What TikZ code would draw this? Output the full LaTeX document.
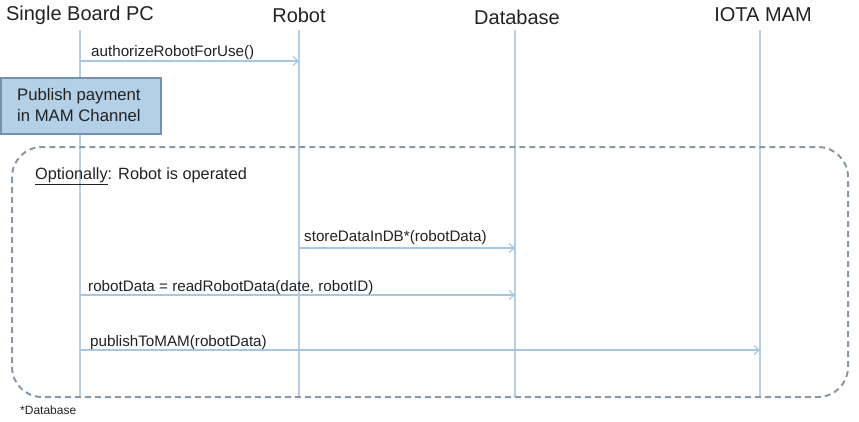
\documentclass[tikz,border=0pt]{standalone}
\usepackage{fontspec}
\setmainfont{Liberation Sans}
\usetikzlibrary{arrows.meta}
\definecolor{lifec}{HTML}{B3CFE6}
\definecolor{msgc}{HTML}{A6C6E2}
\definecolor{boxfill}{HTML}{B4D0E6}
\definecolor{boxdraw}{HTML}{7390AC}
\definecolor{dashc}{HTML}{8898A8}
\definecolor{txtc}{HTML}{222222}
\tikzset{
  x=1pt,y=-1pt,
  head/.style={font=\fontsize{20}{23}\selectfont, text=txtc, inner sep=0pt},
  life/.style={draw=lifec, line width=1.4pt},
  msg/.style={draw=msgc, line width=1.4pt, -{Straight Barb[length=5pt,width=9pt,line width=1.2pt]}},
  lbl/.style={font=\fontsize{15.2}{18}\selectfont, text=txtc, anchor=base west, inner sep=0pt},
  notebox/.style={draw=boxdraw, fill=boxfill, line width=1.5pt, inner sep=0pt},
  frame/.style={draw=dashc, line width=2pt, dash pattern=on 6pt off 4pt, rounded corners=30pt}
}
\begin{document}
\begin{tikzpicture}
\useasboundingbox (0,0) rectangle (859,421);
% headers
\node[head] (hpc) at (80,15) {Single Board PC};
\node[head] (hrb) at (299,15) {Robot};
\node[head] (hdb) at (517,17) {Database};
\node[head] (hio) at (763,15) {IOTA MAM};
% lifeline endpoints
\coordinate (pcT) at (80,30);  \coordinate (pcB) at (80,397);
\coordinate (rbT) at (299,30); \coordinate (rbB) at (299,397);
\coordinate (dbT) at (515,30); \coordinate (dbB) at (515,397);
\coordinate (ioT) at (760,30); \coordinate (ioB) at (760,397);
\draw[life] (pcT) -- (pcB);
\draw[life] (rbT) -- (rbB);
\draw[life] (dbT) -- (dbB);
\draw[life] (ioT) -- (ioB);
% message 1
\coordinate (m1a) at (80,61); \coordinate (m1b) at (299,61);
\draw[msg] (m1a) -- (m1b);
\node[lbl] (l1) at (91,56) {authorizeRobotForUse()};
% note box
\node[notebox, minimum width=160pt, minimum height=56pt, anchor=north west] (note) at (0,77) {};
\node[font=\fontsize{16.7}{21}\selectfont, text=txtc, align=left, anchor=west, inner sep=0pt] (notet) at (17,105) {Publish payment\\in MAM Channel};
% frame
\draw[frame] (12,147) rectangle (848,397);
\node[font=\fontsize{16.3}{19}\selectfont, text=txtc, anchor=base west, inner sep=0pt] (opt) at (35,179) {\underline{Optionally}: Robot is operated};
% messages
\coordinate (m2a) at (299,248); \coordinate (m2b) at (515,248);
\draw[msg] (m2a) -- (m2b);
\node[lbl] (l2) at (304,241) {storeDataInDB*(robotData)};
\coordinate (m3a) at (80,295); \coordinate (m3b) at (515,295);
\draw[msg] (m3a) -- (m3b);
\node[lbl] (l3) at (88,291) {robotData = readRobotData(date, robotID)};
\coordinate (m4a) at (80,350); \coordinate (m4b) at (760,350);
\draw[msg] (m4a) -- (m4b);
\node[lbl] (l4) at (90,346) {publishToMAM(robotData)};
% footnote
\node[font=\fontsize{12}{14}\selectfont, text=txtc, anchor=base west, inner sep=0pt] (foot) at (20,414) {*Database};
\end{tikzpicture}
\end{document}
